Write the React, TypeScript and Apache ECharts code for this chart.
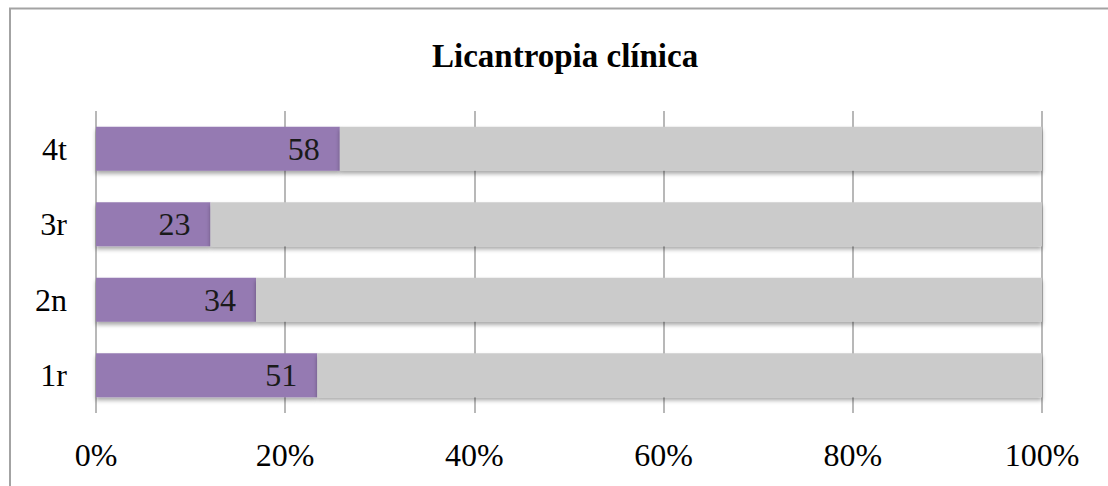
import React, { useEffect, useRef } from "react";
import * as echarts from "echarts";

const categories = ["1r", "2n", "3r", "4t"];
const positiveValues = [51, 34, 23, 58];
const otherValues = [167, 167, 167, 167];
const xTicks = [0, 20, 40, 60, 80, 100];
const chartTitle = "Licantropia clínica";

const FONT = "'Liberation Serif', 'DejaVu Serif', serif";

export default function App() {
  const ref = useRef<HTMLDivElement>(null);
  useEffect(() => {
    if (!ref.current) return;
    const chart = echarts.init(ref.current, undefined, { renderer: "svg" });
    const totals = positiveValues.map((v, i) => v + otherValues[i]);
    const pct = (arr: number[]) => arr.map((v, i) => (v / totals[i]) * 100);
    const shadow = {
      shadowColor: "rgba(0,0,0,0.35)",
      shadowBlur: 4,
      shadowOffsetY: 3,
    };
    chart.setOption({
      animation: false,
      backgroundColor: "#ffffff",
      title: {
        text: chartTitle,
        left: 427,
        top: 34,
        textStyle: {
          fontFamily: FONT,
          fontSize: 33,
          fontWeight: "bold",
          color: "#000000",
        },
      },
      graphic: [
        {
          type: "polyline",
          shape: { points: [[10, 486], [10, 8.5], [1108, 8.5]] },
          style: { fill: "none", stroke: "#a3a3a3", lineWidth: 2 },
          silent: true,
          z: -1,
        },
      ],
      grid: { left: 96, right: 66, top: 111, bottom: 73 },
      xAxis: {
        type: "value",
        min: xTicks[0],
        max: xTicks[xTicks.length - 1],
        interval: 20,
        axisLine: { show: false },
        axisTick: { show: false },
        splitLine: { show: true, lineStyle: { color: "#a0a0a0", width: 1.5 } },
        axisLabel: {
          formatter: "{value}%",
          fontFamily: FONT,
          fontSize: 32,
          color: "#000000",
          margin: 26,
        },
      },
      yAxis: {
        type: "category",
        data: categories,
        axisLine: { show: false },
        axisTick: { show: false },
        axisLabel: {
          fontFamily: FONT,
          fontSize: 32,
          color: "#000000",
          margin: 29,
        },
      },
      series: [
        {
          type: "bar",
          stack: "total",
          barWidth: 44,
          data: pct(positiveValues),
          itemStyle: { color: "#957AB2", ...shadow },
          label: {
            show: true,
            position: "insideRight",
            distance: 20,
            formatter: (p: any) => String(positiveValues[p.dataIndex]),
            fontFamily: FONT,
            fontSize: 32,
            color: "#1a1a1a",
          },
        },
        {
          type: "bar",
          stack: "total",
          barWidth: 44,
          data: pct(otherValues),
          itemStyle: { color: "#CBCBCB", ...shadow },
          label: { show: false },
        },
      ],
    });
    return () => chart.dispose();
  }, []);
  return (
    <div
      ref={ref}
      style={{ position: "absolute", left: 0, top: 0, width: 1108, height: 486 }}
    />
  );
}
